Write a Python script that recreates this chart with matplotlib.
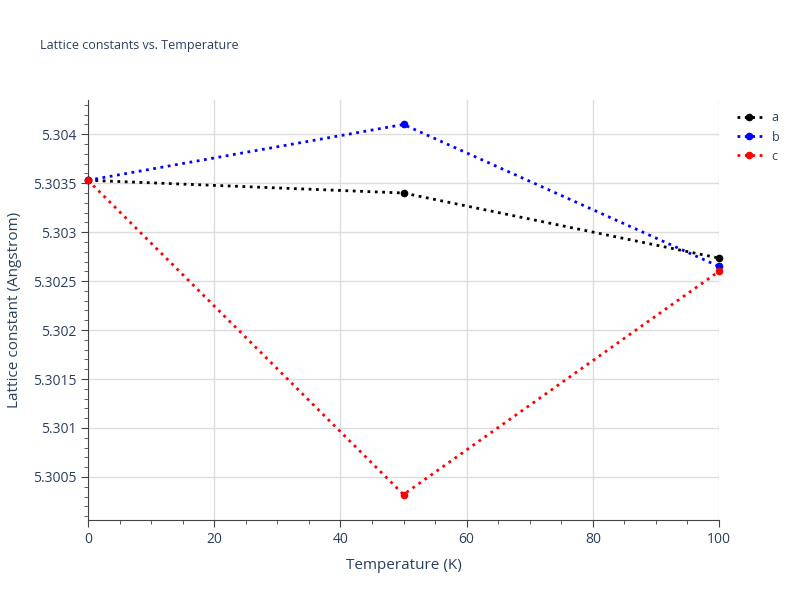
import matplotlib
matplotlib.use("Agg")
import matplotlib.pyplot as plt
from matplotlib.ticker import MultipleLocator, FuncFormatter

temperature = [0, 50, 100]
lat_a = [5.30353, 5.30340, 5.302735]
lat_b = [5.30353, 5.30410, 5.30265]
lat_c = [5.30353, 5.30032, 5.30260]
series = [("a", lat_a, "black"), ("b", lat_b, "blue"), ("c", lat_c, "red")]

plt.rcParams["font.family"] = ["Open Sans", "DejaVu Sans"]
fig = plt.figure(figsize=(8, 6), dpi=100)
ax = fig.add_axes([88 / 800, 80 / 600, 631 / 800, 420 / 600])

for name, vals, col in series:
    ax.plot(temperature, vals, linestyle=":", linewidth=2, color=col,
            marker="o", markersize=4.5, label=name, clip_on=False, zorder=3)

ax.set_xlim(0, 100)
ax.set_ylim(5.30006, 5.30435)
ax.xaxis.set_major_locator(MultipleLocator(20))
ax.xaxis.set_minor_locator(MultipleLocator(5))
ax.yaxis.set_major_locator(MultipleLocator(0.0005))
ax.yaxis.set_minor_locator(MultipleLocator(0.0001))
ax.yaxis.set_major_formatter(FuncFormatter(lambda v, p: f"{v:.4f}".rstrip("0").rstrip(".")))
ax.grid(True, which="major", color="#dddddd", linewidth=1)
ax.set_axisbelow(True)
for s in ["top", "right"]:
    ax.spines[s].set_visible(False)
for s in ["left", "bottom"]:
    ax.spines[s].set_color("#444444")
txt = "#2a3f5f"
ax.tick_params(axis="both", which="both", colors="#444444", labelcolor=txt, labelsize=10)
ax.tick_params(which="major", length=5)
ax.tick_params(which="minor", length=3)
ax.set_xlabel("Temperature (K)", color=txt, fontsize=11, labelpad=8)
ax.set_ylabel("Lattice constant (Angstrom)", color=txt, fontsize=11, labelpad=8)
fig.text(40 / 800, 1 - 46 / 600, "Lattice constants vs. Temperature", color=txt,
         fontsize=9, va="center")
ax.legend(loc="upper left", bbox_to_anchor=(1.01, 1.0), frameon=False,
          fontsize=9, labelcolor=txt, handlelength=2)
fig.savefig("out.png", dpi=100)
